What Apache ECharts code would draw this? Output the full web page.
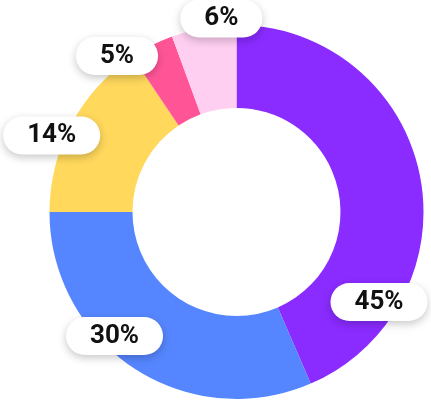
<!DOCTYPE html>
<html>
<head>
<meta charset="utf-8">
<script src="https://cdn.jsdelivr.net/npm/echarts@6/dist/echarts.min.js"></script>
<style>
html,body{margin:0;padding:0;background:#fff;}
#chart{width:431px;height:400px;}
</style>
</head>
<body>
<div id="chart"></div>
<script>
// Slice values (as drawn) and their printed labels
const categories = ['A', 'B', 'C', 'D', 'E'];
const values = [43.5, 31.5, 15.6, 3.8, 5.6];
const labels = ['45%', '30%', '14%', '5%', '6%'];
const colors = ['#8a2bff', '#5686ff', '#ffd85c', '#ff5597', '#ffcff1'];

const cx = 236.5, cy = 212;
// label box offsets from pie centre (px)
const labelOffsets = [[142.5, 90], [-122, 124], [-184.8, -76.5], [-119.5, -156], [-15.2, -193.5]];

const chart = echarts.init(document.getElementById('chart'), null, {renderer: 'canvas'});
chart.setOption({
  animation: false,
  series: [{
    type: 'pie',
    center: [cx, cy],
    radius: [104, 187],
    startAngle: 90,
    clockwise: true,
    avoidLabelOverlap: false,
    data: categories.map((c, i) => ({
      name: c,
      value: values[i],
      itemStyle: {color: colors[i]},
      label: {formatter: labels[i]}
    })),
    itemStyle: {borderWidth: 0},
    emphasis: {disabled: true},
    labelLine: {show: false},
    label: {
      show: true,
      position: 'inside',
      fontFamily: 'Roboto',
      fontWeight: 'bold',
      fontSize: 26,
      lineHeight: 26,
      color: '#111',
      backgroundColor: '#fff',
      borderRadius: 19,
      padding: [6, 24, 6, 24],
      shadowBlur: 8,
      shadowColor: 'rgba(0,0,0,0.22)',
      shadowOffsetY: 3
    },
    labelLayout: function (p) {
      const o = labelOffsets[p.dataIndex];
      return {x: cx + o[0], y: cy + o[1], align: 'center', verticalAlign: 'middle'};
    }
  }]
});
</script>
</body>
</html>
